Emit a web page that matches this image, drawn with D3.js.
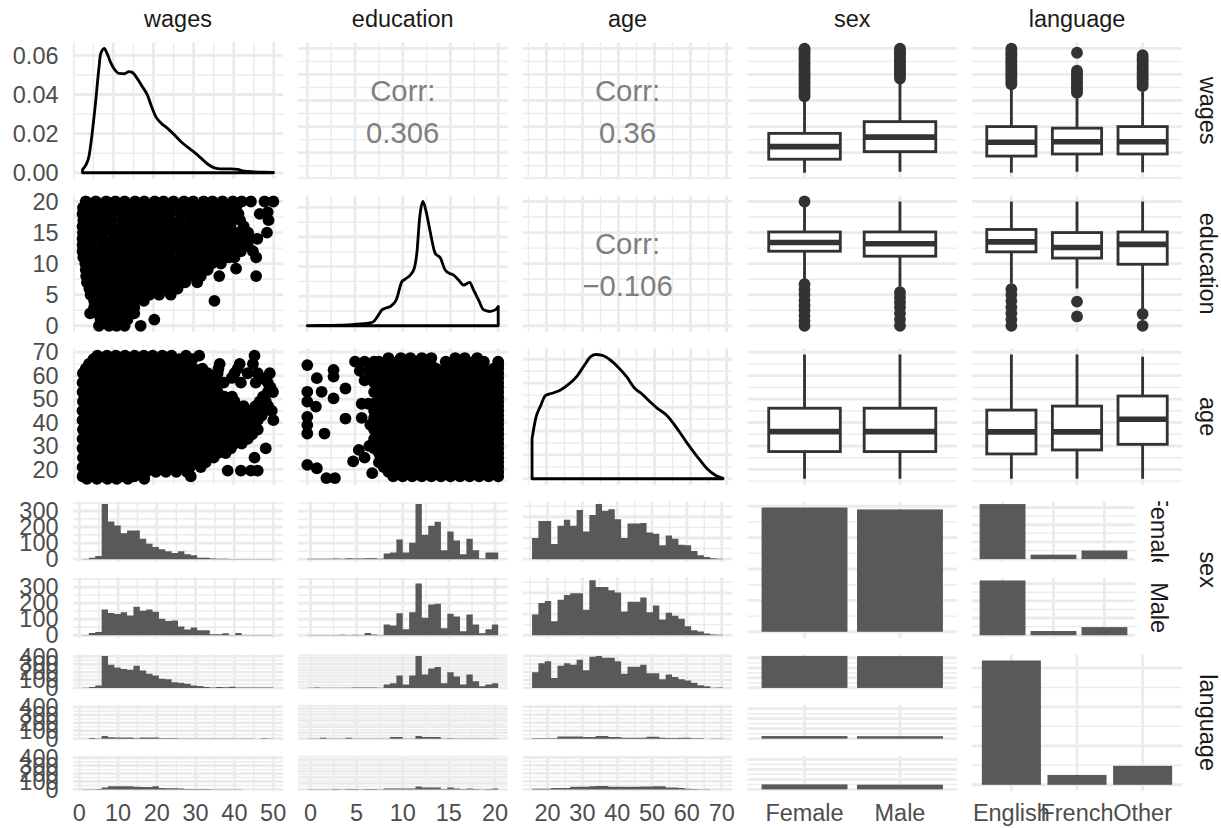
<!DOCTYPE html>
<html>
<head>
<meta charset="utf-8">
<title>Pairs plot: wages, education, age, sex, language</title>
<script src="https://cdn.jsdelivr.net/npm/d3@7/dist/d3.min.js"></script>
<style>
  html, body { margin: 0; padding: 0; background: #ffffff; }
  svg text { font-family: "Liberation Sans", Arial, Helvetica, sans-serif; }
</style>
</head>
<body>
<svg id="chart" width="1221" height="828"></svg>
<script>
// ---------------- data ----------------
const variables = ["wages", "education", "age", "sex", "language"];
const sexLevels = ["Female", "Male"];
const languageLevels = ["English", "French", "Other"];

const wagesRange = [2.3, 49.92];
const educationRange = [0, 20];
const ageRange = [16, 69];

const wagesTicks = [0, 10, 20, 30, 40, 50];
const educationTicks = [0, 5, 10, 15, 20];
const ageTicks = [20, 30, 40, 50, 60, 70];
const densityTicks = [0, 0.02, 0.04, 0.06];
const sexFacetCountTicks = [0, 100, 200, 300];
const languageFacetCountTicks = [0, 100, 200, 300, 400];

const corrLabels = ["0.306", "0.36", "\u22120.106"];

// kernel density estimates on the diagonal: [value, density]
const wagesDensity = [[2.3,0.0017],[3.1,0.0039],[3.9,0.0084],[4.7,0.0202],[5.6,0.037],[6.4,0.0539],[6.8,0.0606],[7.7,0.0635],[8.5,0.0606],[9.3,0.0564],[10.2,0.053],[11.4,0.0508],[12.7,0.0506],[13.9,0.0517],[14.7,0.0513],[16.0,0.048],[17.2,0.0441],[18.5,0.0396],[19.7,0.0328],[20.6,0.0286],[21.8,0.0256],[23.5,0.0227],[25.2,0.0194],[26.8,0.016],[28.5,0.0131],[30.2,0.0104],[31.8,0.0076],[33.5,0.0045],[35.2,0.0025],[36.8,0.002],[39.3,0.002],[41.0,0.0017],[42.7,0.0008],[45.2,0.0005],[47.7,0.0003],[49.92,0.0002]];
const educationDensity = [[0,0.0004],[1.7,0.0006],[3.45,0.001],[5.2,0.0027],[6.25,0.0042],[6.88,0.0063],[7.36,0.0158],[7.82,0.0269],[8.17,0.0296],[8.69,0.0326],[9.32,0.0437],[9.91,0.0746],[10.26,0.079],[10.79,0.0857],[11.2,0.0968],[11.49,0.125],[11.76,0.1808],[12.11,0.21],[12.46,0.1922],[12.88,0.1586],[13.41,0.122],[13.93,0.1149],[14.45,0.0941],[14.91,0.0884],[15.33,0.0857],[15.85,0.0773],[16.38,0.0689],[17.0,0.0733],[17.42,0.0605],[17.94,0.0437],[18.47,0.0269],[19.09,0.0242],[19.69,0.0269],[20,0.0326]];
const ageDensity = [[16,0.0084],[17,0.0126],[18.4,0.0153],[19.7,0.0174],[21.6,0.0179],[23.9,0.0186],[26.2,0.0198],[28.5,0.0215],[30.4,0.0236],[32.2,0.0255],[33.6,0.026],[35.5,0.0258],[37.8,0.0248],[40.1,0.0232],[42.4,0.0212],[44.3,0.0191],[46.6,0.0177],[48.9,0.016],[50.7,0.0148],[53.5,0.0132],[56.3,0.0105],[59.1,0.0074],[61.9,0.0046],[64.6,0.0021],[67.0,0.0007],[69,0.0001]];

// scatter observations, grouped by the y value: [y, [x values]]
const wagesEducationRows = [
  [20, [3.1, 5.6, 8.2, 10.5, 12.8, 15.4, 17.7, 20.3, 22.5, 25.0, 27.6, 29.9, 32.5, 34.7, 37.2, 39.8, 42.0, 44.3, 47.7, 49.9]],
  [19, [2.4, 4.9, 7.1, 9.8, 12.0, 14.7, 16.9, 19.5, 21.8, 24.4, 26.7, 29.3, 31.5, 34.2, 36.4, 38.8, 40.6]],
  [18.3, [48.5]],
  [18, [2.3, 4.6, 7.2, 9.5, 12.1, 14.4, 17.0, 19.2, 21.9, 24.1, 26.8, 29.0, 31.6, 33.9, 36.5, 38.7, 41.2, 46.5]],
  [17, [2.5, 4.8, 7.3, 9.7, 12.2, 14.6, 16.8, 19.5, 21.7, 24.2, 26.6, 29.3, 31.5, 34.1, 36.4, 39.0, 41.6, 48.7]],
  [16, [2.3, 4.9, 7.4, 9.6, 12.3, 14.8, 17.2, 19.6, 22.1, 24.5, 26.9, 29.4, 31.8, 34.3, 36.7, 39.2, 42.5]],
  [15, [2.4, 4.7, 7.1, 9.7, 11.9, 14.5, 16.9, 19.3, 21.8, 24.3, 26.6, 29.1, 31.7, 34.0, 36.5, 38.9, 41.3, 43.6, 48.3]],
  [14, [2.3, 4.8, 7.2, 9.8, 12.1, 14.6, 17.1, 19.4, 21.9, 24.2, 26.8, 29.2, 31.6, 34.2, 36.6, 39.1, 41.4, 43.9, 45.9]],
  [13, [2.3, 4.7, 7.3, 9.6, 12.2, 14.5, 17.0, 19.5, 21.8, 24.4, 26.7, 29.1, 31.7, 34.1, 36.4, 38.9, 41.2, 43.5]],
  [12, [2.3, 4.9, 7.2, 9.7, 12.0, 14.6, 17.1, 19.3, 21.9, 24.3, 26.8, 29.0, 31.6, 34.0, 36.6, 39.0, 41.8, 44.8]],
  [11, [2.5, 4.8, 7.4, 9.8, 12.3, 14.7, 17.0, 19.6, 22.0, 24.2, 26.9, 29.3, 31.5, 34.1, 36.3, 38.8, 40.2, 45.6]],
  [10, [3.0, 5.4, 7.9, 10.2, 12.7, 15.1, 17.6, 20.0, 22.4, 24.9, 27.3, 29.8, 32.2, 34.5, 36.8]],
  [9.2, [40.6]],
  [9, [3.1, 5.5, 8.0, 10.4, 12.9, 15.2, 17.8, 20.1, 22.6, 25.0, 27.5, 29.9, 32.3, 33.5]],
  [8, [3.2, 5.7, 8.1, 10.6, 13.0, 15.5, 17.9, 20.3, 22.8, 25.2, 27.6, 30.1, 31.8, 36.4, 45.6]],
  [7, [3.4, 5.9, 8.3, 10.8, 13.2, 15.6, 18.1, 20.5, 23.0, 25.4, 27.9, 30.9]],
  [6, [4.0, 6.4, 8.9, 11.3, 13.8, 16.2, 18.6, 21.1, 23.5, 26.0]],
  [5, [4.3, 6.8, 9.2, 11.7, 14.1, 16.5, 19.0, 21.4, 24.3]],
  [4, [5.2, 7.6, 10.1, 12.5, 15.0, 17.6, 35.2]],
  [3, [5.2, 7.7, 10.1, 12.6, 15.2]],
  [2, [4.2, 6.0, 8.5, 10.9, 13.4, 15.2]],
  [1, [6.8, 9.2, 11.1, 13.5, 20.2]],
  [0, [6.4, 8.9, 10.8, 12.8, 16.8]]
];
const wagesAgeRows = [
  [68.5, [6.0, 8.4, 10.6, 12.9, 15.3, 17.6, 19.8, 22.2, 24.5, 28.1, 31.4, 45.2]],
  [67, [5.0, 7.3, 9.6, 11.9, 14.2, 16.6, 19.0, 21.3, 23.6, 26.5, 29.7]],
  [65, [3.9, 6.3, 8.8, 11.2, 13.7, 16.1, 18.5, 21.0, 23.4, 25.8, 28.4, 36.5, 41.5, 44.8]],
  [63, [3.1, 5.5, 8.0, 10.4, 12.9, 15.3, 17.7, 20.2, 22.6, 25.1, 27.5, 30.0, 32.2, 36.2, 41.0]],
  [61, [2.4, 4.8, 7.3, 9.7, 12.2, 14.6, 17.0, 19.5, 21.9, 24.4, 26.8, 29.2, 31.7, 33.5, 36.0, 40.2, 43.5, 46.0, 49.0]],
  [59, [3.5, 5.9, 8.4, 10.8, 13.3, 15.7, 18.1, 20.6, 23.0, 25.5, 27.9, 30.4, 32.8, 35.2, 39.5, 46.8]],
  [57, [2.3, 4.7, 7.2, 9.6, 12.1, 14.5, 16.9, 19.4, 21.8, 24.2, 26.7, 29.1, 31.6, 34.3, 37.5, 41.8, 45.5, 48.5]],
  [55, [3.5, 6.0, 8.4, 10.9, 13.3, 15.7, 18.2, 20.6, 23.1, 25.5, 27.9, 30.4, 32.8, 35.1, 49.2]],
  [53, [2.3, 4.8, 7.2, 9.7, 12.1, 14.5, 17.0, 19.4, 21.9, 24.3, 26.7, 29.2, 31.6, 34.1, 36.0, 48.5, 49.8]],
  [51, [3.6, 6.0, 8.5, 10.9, 13.3, 15.8, 18.2, 20.7, 23.1, 25.5, 28.0, 30.4, 32.9, 35.3, 37.7, 39.6, 47.3]],
  [49, [2.4, 4.8, 7.3, 9.7, 12.1, 14.6, 17.0, 19.5, 21.9, 24.3, 26.8, 29.2, 31.7, 34.1, 36.5, 39.0, 40.2, 46.5, 48.0]],
  [47, [3.5, 5.9, 8.4, 10.8, 13.3, 15.7, 18.1, 20.6, 23.0, 25.5, 27.9, 30.3, 32.8, 35.2, 37.7, 40.1, 42.5, 45.4, 48.6]],
  [45, [2.3, 4.7, 7.2, 9.6, 12.0, 14.5, 16.9, 19.4, 21.8, 24.2, 26.7, 29.1, 31.6, 34.0, 36.4, 38.9, 41.3, 44.3, 47.7, 49.5]],
  [43, [3.5, 6.0, 8.4, 10.8, 13.3, 15.7, 18.2, 20.6, 23.0, 25.5, 27.9, 30.4, 32.8, 35.2, 37.7, 40.1, 42.6, 45.0, 47.0]],
  [41, [2.3, 4.8, 7.2, 9.6, 12.1, 14.5, 17.0, 19.4, 21.8, 24.3, 26.7, 29.2, 31.6, 34.0, 36.5, 38.9, 41.4, 43.8, 46.0, 49.9]],
  [39, [3.6, 6.0, 8.5, 10.9, 13.4, 15.8, 18.2, 20.7, 23.1, 25.6, 28.0, 30.4, 32.9, 35.3, 37.8, 40.2, 42.6, 45.1]],
  [37, [2.4, 4.8, 7.3, 9.7, 12.2, 14.6, 17.0, 19.5, 21.9, 24.4, 26.8, 29.2, 31.7, 34.1, 36.6, 39.0, 41.4, 43.9, 46.0]],
  [35, [3.5, 5.9, 8.3, 10.8, 13.2, 15.7, 18.1, 20.5, 23.0, 25.4, 27.9, 30.3, 32.7, 35.2, 37.6, 40.1, 42.5, 44.6]],
  [33, [2.3, 4.7, 7.1, 9.6, 12.0, 14.4, 16.9, 19.3, 21.8, 24.2, 26.6, 29.1, 31.5, 34.0, 36.4, 38.8, 41.3, 43.5]],
  [31, [3.5, 6.0, 8.4, 10.9, 13.3, 15.7, 18.2, 20.6, 23.1, 25.5, 28.0, 30.4, 32.8, 35.3, 37.7, 40.2, 42.0]],
  [29, [2.3, 4.8, 7.2, 9.7, 12.1, 14.6, 17.0, 19.4, 21.9, 24.3, 26.8, 29.2, 31.6, 34.1, 36.5, 39.3, 48.0]],
  [27, [3.6, 6.0, 8.5, 10.9, 13.4, 15.8, 18.3, 20.7, 23.1, 25.6, 28.0, 30.5, 32.9, 36.0, 38.0]],
  [25, [2.4, 4.8, 7.3, 9.7, 12.2, 14.6, 17.1, 19.5, 21.9, 24.4, 26.8, 29.3, 31.7, 35.0, 45.2]],
  [23, [3.5, 5.9, 8.4, 10.8, 13.2, 15.7, 18.1, 20.6, 23.0, 25.4, 27.9, 30.3, 33.0]],
  [21, [2.3, 4.7, 7.2, 9.6, 12.0, 14.5, 16.9, 19.4, 21.8, 24.2, 26.7, 29.1, 31.8]],
  [19.5, [38.5, 41.8, 44.3, 46.0]],
  [19, [3.5, 6.0, 8.4, 10.9, 13.3, 15.8, 18.2, 20.6, 23.1, 25.7, 28.3]],
  [17, [2.3, 4.8, 7.2, 9.7, 12.1, 15.2, 29.3]],
  [16, [3.4, 5.9, 8.5, 10.8, 13.6, 17.7]]
];
const educationAgeRows = [
  [67.5, [8.5, 9.8, 10.8, 12.0, 13.0, 15.5, 16.5, 17.8]],
  [66, [5.0, 6.0, 7.0, 7.5, 8.5, 9.5, 10.5, 11.5, 12.5, 14.5, 15.5, 16.5, 17.5, 18.5, 20]],
  [64.5, [8, 9, 10, 11, 12, 13, 15, 16, 17, 18, 20]],
  [63, [7.5, 8.5, 9.5, 10.5, 11.5, 12.5, 13.5, 14.5, 15.5, 16.5, 17.5, 18.5, 19.5, 20]],
  [62, [5.5, 6.5, 7.0]],
  [61, [7, 8, 9, 10, 11, 12, 13, 14, 15, 16, 17, 18, 19, 20]],
  [59, [7.5, 8.5, 9.5, 10.5, 11.5, 12.5, 13.5, 14.5, 15.5, 16.5, 17.5, 18.5, 19.5, 20]],
  [58, [6.0, 7.0]],
  [57, [7, 8, 9, 10, 11, 12, 13, 14, 15, 16, 17, 18, 19, 20]],
  [55, [7.5, 8.5, 9.5, 10.5, 11.5, 12.5, 13.5, 14.5, 15.5, 16.5, 17.5, 18.5, 19.5, 20]],
  [53, [7, 8, 9, 10, 11, 12, 13, 14, 15, 16, 17, 18, 19, 20]],
  [51, [7.5, 8.5, 9.5, 10.5, 11.5, 12.5, 13.5, 14.5, 15.5, 16.5, 17.5, 18.5, 19.5, 20]],
  [49, [8, 9, 10, 11, 12, 13, 14, 15, 16, 17, 18, 19, 20]],
  [48, [5.7, 6.4, 7.0]],
  [47, [7.5, 8.5, 9.5, 10.5, 11.5, 12.5, 13.5, 14.5, 15.5, 16.5, 17.5, 18.5, 19.5, 20]],
  [45, [7, 8, 9, 10, 11, 12, 13, 14, 15, 16, 17, 18, 19, 20]],
  [43, [7.5, 8.5, 9.5, 10.5, 11.5, 12.5, 13.5, 14.5, 15.5, 16.5, 17.5, 18.5, 19.5, 20]],
  [42, [5.7, 7.0]],
  [41, [8, 9, 10, 11, 12, 13, 14, 15, 16, 17, 18, 19, 20]],
  [39, [6.6, 7.5, 8.5, 9.5, 10.5, 11.5, 12.5, 13.5, 14.5, 15.5, 16.5, 17.5, 18.5, 19.5, 20]],
  [37, [7, 8, 9, 10, 11, 12, 13, 14, 15, 16, 17, 18, 19, 20]],
  [35, [7.5, 8.5, 9.5, 10.5, 11.5, 12.5, 13.5, 14.5, 15.5, 16.5, 17.5, 18.5, 19.5, 20]],
  [33, [7, 8, 9, 10, 11, 12, 13, 14, 15, 16, 17, 18, 19, 20]],
  [31, [7.5, 8.5, 9.5, 10.5, 11.5, 12.5, 13.5, 14.5, 15.5, 16.5, 17.5, 18.5, 19.5, 20]],
  [29, [7, 8, 9, 10, 11, 12, 13, 14, 15, 16, 17, 18, 19, 20]],
  [27, [7.5, 8.5, 9.5, 10.5, 11.5, 12.5, 13.5, 14.5, 15.5, 16.5, 17.5, 18.5, 19.5, 20]],
  [25, [8, 9, 10, 11, 12, 13, 14, 15, 16, 17, 18, 19, 20]],
  [23, [7.5, 8.5, 9.5, 10.5, 11.5, 12.5, 13.5, 14.5, 15.5, 16.5, 17.5, 18.5, 19.5, 20]],
  [21, [8, 9, 10, 11, 12, 13, 14, 15, 16, 17, 18, 19, 20]],
  [19, [8.5, 9.5, 10.5, 11.5, 12.5, 13.5, 14.5, 15.5, 16.5, 17.5, 18.5, 19.5, 20]],
  [17, [9, 10, 11, 12, 13, 14, 15, 16, 17, 18, 19, 20]]
];
const educationAgeSparse = [[0,64.5],[1.0,58.9],[2.75,62.4],[2.75,59.6],[0,53.1],[1.5,53.1],[0,48.9],[0.9,46.8],[2.75,50.3],[4.0,54.5],[4.0,41.7],[0,42.4],[0,38.9],[0,35.3],[1.8,35.3],[0,21.9],[1.0,20.5],[2.0,16.3],[2.9,16.3],[4.8,23.4],[6.8,18.4],[5.4,28.3],[6.0,25.0],[6.5,30.0]];

// histogram bins: [first break, bin width]; counts per facet (30 bins)
const wagesBin = [0.821, 1.642];
const educationBin = [-0.345, 0.6897];
const ageBin = [15.534, 1.8276];

const wagesFemale = [1, 8, 20, 343, 235, 209, 162, 178, 178, 127, 96, 76, 61, 49, 39, 49, 31, 25, 8, 8, 4, 2, 2, 1, 1, 1, 1, 1, 1, 1];
const wagesMale = [1, 14, 20, 160, 139, 133, 143, 123, 178, 153, 160, 147, 102, 88, 92, 55, 35, 49, 31, 31, 6, 6, 12, 1, 14, 1, 1, 1, 2, 1];
const wagesEnglish = [2, 12, 32, 405, 292, 259, 239, 231, 279, 219, 178, 158, 117, 109, 73, 65, 53, 32, 24, 12, 4, 12, 8, 16, 4, 4, 4, 4, 4, 4];
const wagesFrench = [0, 8, 2, 33, 18, 16, 16, 16, 4, 16, 16, 16, 4, 4, 4, 2, 2, 2, 2, 2, 2, 2, 2, 2, 2, 2, 2, 0, 4, 2];
const wagesOther = [1, 2, 4, 25, 41, 41, 41, 41, 35, 30, 30, 41, 18, 14, 14, 12, 6, 6, 4, 4, 2, 2, 1, 1, 1, 0, 0, 0, 0, 0];

const educationFemale = [3, 2, 2, 3, 4, 3, 5, 4, 4, 6, 5, 3, 35, 41, 123, 41, 102, 344, 153, 209, 233, 55, 172, 117, 31, 127, 55, 4, 41, 41];
const educationMale = [1, 1, 1, 2, 2, 3, 2, 3, 2, 14, 4, 2, 67, 61, 137, 37, 143, 323, 110, 192, 196, 43, 135, 117, 25, 129, 67, 12, 37, 67];
const educationEnglish = [5, 8, 4, 4, 5, 4, 5, 9, 9, 6, 9, 4, 59, 80, 209, 59, 209, 535, 225, 326, 348, 80, 262, 193, 59, 225, 112, 27, 59, 80];
const educationFrench = [2, 3, 16, 3, 2, 3, 16, 3, 2, 3, 4, 3, 3, 27, 27, 4, 2, 43, 27, 27, 27, 4, 6, 3, 2, 4, 3, 2, 3, 3];
const educationOther = [3, 4, 3, 4, 5, 4, 6, 5, 4, 6, 5, 4, 16, 16, 16, 16, 16, 48, 32, 32, 32, 8, 32, 16, 6, 16, 8, 3, 6, 16];

const ageFemale = [50, 90, 90, 36, 79, 93, 79, 116, 65, 104, 130, 114, 118, 94, 50, 84, 84, 85, 63, 60, 33, 56, 48, 34, 33, 19, 9, 5, 2, 1];
const ageMale = [49, 76, 81, 33, 84, 95, 99, 99, 60, 130, 114, 114, 106, 101, 56, 79, 79, 89, 54, 70, 37, 53, 46, 39, 21, 12, 9, 4, 2, 1];
const ageEnglish = [98, 154, 166, 62, 138, 154, 144, 176, 110, 194, 200, 188, 188, 166, 88, 132, 132, 144, 92, 92, 54, 84, 68, 54, 46, 32, 16, 10, 1, 2];
const ageFrench = [3, 3, 2, 2, 14, 14, 14, 14, 10, 10, 16, 16, 10, 10, 6, 6, 6, 6, 12, 12, 6, 4, 4, 6, 6, 3, 2, 0, 1, 1];
const ageOther = [4, 4, 4, 8, 8, 8, 16, 16, 16, 20, 22, 22, 16, 16, 16, 16, 16, 18, 18, 20, 20, 12, 12, 8, 4, 2, 1, 1, 0, 0];

// counts of language by sex (English, French, Other)
const femaleLanguage = [1600, 130, 250];
const maleLanguage = [1591, 123, 236];

// boxplot summaries: [lower whisker, Q1, median, Q3, upper whisker]
const wagesSexBox = [[2.3, 7.5, 12.3, 17.4, 30.2], [2.7, 10.4, 16.0, 21.9, 37.0]];
const wagesSexOutliers = [
  [31.6, 32.4, 33.3, 34.1, 35.0, 35.9, 36.7, 37.5, 38.4, 39.3, 40.1, 40.9, 41.8, 42.7, 43.5, 44.3, 45.2, 46.0, 46.9, 47.8, 48.6, 49.4, 49.9],
  [38.4, 39.2, 40.1, 41.0, 41.8, 42.6, 43.5, 44.4, 45.2, 46.1, 46.9, 47.7, 48.6, 49.3, 49.9]
];
const wagesLanguageBox = [[2.3, 8.7, 14.0, 20.0, 35.3], [2.7, 9.5, 14.2, 19.4, 30.8], [2.5, 9.5, 14.2, 20.0, 33.4]];
const wagesLanguageOutliers = [
  [36.2, 37.1, 37.9, 38.8, 39.6, 40.4, 41.3, 42.2, 43.0, 43.9, 44.7, 45.5, 46.4, 47.3, 48.1, 49.0, 49.9],
  [32.9, 33.8, 34.7, 35.5, 36.3, 37.2, 38.1, 38.9, 39.8, 40.6, 41.4, 48.3],
  [35.5, 36.3, 37.2, 38.1, 38.9, 39.7, 40.6, 41.5, 42.3, 43.1, 44.0, 44.9, 45.7, 46.5, 47.4]
];
const educationSexBox = [[7.5, 12.0, 13.4, 15.1, 19.5], [6.3, 11.2, 13.2, 15.1, 20]];
const educationSexOutliers = [[20, 6.7, 5.8, 5.0, 4.1, 3.3, 2.5, 1.6, 0.8, 0], [5.4, 4.6, 3.8, 3.0, 2.0, 1.0, 0]];
const educationLanguageBox = [[6.8, 11.9, 13.5, 15.5, 20], [6.0, 10.9, 12.6, 15.0, 20], [2.8, 9.9, 13.1, 15.1, 20]];
const educationLanguageOutliers = [[5.9, 5.0, 4.0, 3.0, 2.0, 1.0, 0], [3.9, 1.5], [1.9, 0]];
const ageSexBox = [[16, 27.6, 36.1, 46.1, 69], [16, 27.6, 36.1, 46.1, 69]];
const ageLanguageBox = [[16, 26.6, 36.0, 45.3, 69], [16, 28.3, 36.0, 47.0, 69], [16, 30.7, 41.4, 51.3, 68]];

// ---------------- layout & style ----------------
const PANEL_W = 210, PANEL_H = 136.7, COL_STEP = 224.75, ROW_STEP = 153;
const LEFT = 73, TOP = 42.3, FACET_GAP = 15.5;
const colX = i => LEFT + i * COL_STEP;
const rowY = j => TOP + j * ROW_STEP;

const GRID_COL = "#ebebeb", MAJOR_W = 2.84, MINOR_W = 1.42;
const LINE_W = 2.84, MEDIAN_W = 5.7, POINT_R = 5.9;
const BAR_FILL = "#595959", BOX_COL = "#333333";
const AXIS_COL = "#4d4d4d", STRIP_COL = "#1a1a1a", CORR_COL = "#7f7f7f";
const TEXT_SIZE = 23.47, CORR_SIZE = 29.3;

const svg = d3.select("#chart");
svg.append("rect").attr("width", 1221).attr("height", 828).attr("fill", "#ffffff");
const defs = svg.append("defs");

const expand = (r, m = 0.05) => { const d = r[1] - r[0]; return [r[0] - m * d, r[1] + m * d]; };

function breaksFor(domain, fixed) {
  let maj;
  if (fixed) maj = fixed.slice();
  else {
    maj = d3.ticks(domain[0], domain[1], 5);
    if (maj.length > 6) maj = d3.ticks(domain[0], domain[1], 3);
  }
  let min = [];
  if (maj.length > 1) {
    const step = maj[1] - maj[0];
    min = [maj[0] - step / 2, ...maj.map(v => v + step / 2)];
  }
  const inside = v => v >= domain[0] && v <= domain[1];
  return { maj: maj.filter(inside), min: min.filter(inside) };
}

let clipCount = 0;
function clipped(box) {
  const id = "clip-" + (clipCount++);
  defs.append("clipPath").attr("id", id).append("rect")
    .attr("x", box.x).attr("y", box.y).attr("width", box.w).attr("height", box.h);
  return svg.append("g").attr("clip-path", `url(#${id})`);
}

function drawGrid(g, box, xs, xb, ys, yb) {
  const lines = [
    ...yb.min.map(v => ({ o: "h", p: ys(v), w: MINOR_W })),
    ...xb.min.map(v => ({ o: "v", p: xs(v), w: MINOR_W })),
    ...yb.maj.map(v => ({ o: "h", p: ys(v), w: MAJOR_W })),
    ...xb.maj.map(v => ({ o: "v", p: xs(v), w: MAJOR_W }))
  ];
  g.append("g").selectAll("line").data(lines).join("line")
    .attr("x1", d => d.o === "h" ? box.x : d.p)
    .attr("x2", d => d.o === "h" ? box.x + box.w : d.p)
    .attr("y1", d => d.o === "h" ? d.p : box.y)
    .attr("y2", d => d.o === "h" ? d.p : box.y + box.h)
    .attr("stroke", GRID_COL).attr("stroke-width", d => d.w);
}

const panelBox = (col, row) => ({ x: colX(col), y: rowY(row), w: PANEL_W, h: PANEL_H });

function facetBoxes(x, w, top, n) {
  const h = (PANEL_H - FACET_GAP * (n - 1)) / n;
  return d3.range(n).map(i => ({ x, y: top + i * (h + FACET_GAP), w, h }));
}

// ---------------- panel types ----------------
function densityPanel(col, row, range, xTicks, curve, yTicks) {
  const box = panelBox(col, row);
  const xs = d3.scaleLinear().domain(expand(range)).range([box.x, box.x + box.w]);
  const ys = d3.scaleLinear().domain(expand([0, d3.max(curve, d => d[1])])).range([box.y + box.h, box.y]);
  const g = clipped(box);
  drawGrid(g, box, xs, breaksFor(xs.domain(), xTicks), ys, breaksFor(ys.domain(), yTicks));
  const line = d3.line().x(d => xs(d[0])).y(d => ys(d[1])).curve(d3.curveMonotoneX);
  const first = curve[0], last = curve[curve.length - 1];
  const d = `M${xs(first[0])},${ys(0)}L` + line(curve).slice(1) + `L${xs(last[0])},${ys(0)}Z`;
  g.append("path").attr("d", d).attr("fill", "none").attr("stroke", "#000000")
    .attr("stroke-width", LINE_W).attr("stroke-linejoin", "round");
  return { xs, ys };
}

function scatterPanel(col, row, xRange, xTicks, yRange, yTicks, points) {
  const box = panelBox(col, row);
  const xs = d3.scaleLinear().domain(expand(xRange)).range([box.x, box.x + box.w]);
  const ys = d3.scaleLinear().domain(expand(yRange)).range([box.y + box.h, box.y]);
  const g = clipped(box);
  drawGrid(g, box, xs, breaksFor(xs.domain(), xTicks), ys, breaksFor(ys.domain(), yTicks));
  g.append("g").selectAll("circle").data(points).join("circle")
    .attr("cx", d => xs(d[0])).attr("cy", d => ys(d[1])).attr("r", POINT_R).attr("fill", "#000000");
  return { xs, ys };
}

function corrPanel(col, row, xRange, xTicks, yRange, yTicks, label) {
  const box = panelBox(col, row);
  const xs = d3.scaleLinear().domain(expand(xRange)).range([box.x, box.x + box.w]);
  const ys = d3.scaleLinear().domain(expand(yRange)).range([box.y + box.h, box.y]);
  const g = clipped(box);
  drawGrid(g, box, xs, breaksFor(xs.domain(), xTicks), ys, breaksFor(ys.domain(), yTicks));
  const cx = box.x + box.w / 2, cy = box.y + box.h / 2;
  svg.append("g").selectAll("text").data([["Corr:", -9.6], [label, 32.8]]).join("text")
    .attr("x", cx).attr("y", d => cy + d[1]).attr("text-anchor", "middle")
    .attr("font-size", CORR_SIZE).attr("fill", CORR_COL).text(d => d[0]);
}

function boxPanel(col, row, levels, stats, outliers, yRange, yTicks) {
  const box = panelBox(col, row);
  const xs = d3.scalePoint().domain(levels).range([box.x, box.x + box.w]).padding(0.6);
  const ys = d3.scaleLinear().domain(expand(yRange)).range([box.y + box.h, box.y]);
  const g = clipped(box);
  drawGrid(g, box, xs, { maj: levels, min: [] }, ys, breaksFor(ys.domain(), yTicks));
  const half = xs.step() * 0.75 / 2;
  const items = levels.map((lv, i) => ({ lv, s: stats[i], out: outliers ? outliers[i] : [] }));
  g.append("g").selectAll("g").data(items).join("g").each(function (d) {
    const el = d3.select(this), cx = xs(d.lv);
    const [lo, q1, med, q3, hi] = d.s;
    el.selectAll("circle").data(d.out).join("circle")
      .attr("cx", cx).attr("cy", v => ys(v)).attr("r", POINT_R).attr("fill", BOX_COL);
    el.selectAll("line.whisker").data([[hi, q3], [q1, lo]]).join("line").attr("class", "whisker")
      .attr("x1", cx).attr("x2", cx).attr("y1", v => ys(v[0])).attr("y2", v => ys(v[1]))
      .attr("stroke", BOX_COL).attr("stroke-width", LINE_W);
    el.append("rect").attr("x", cx - half).attr("y", ys(q3)).attr("width", 2 * half)
      .attr("height", ys(q1) - ys(q3)).attr("fill", "#ffffff")
      .attr("stroke", BOX_COL).attr("stroke-width", LINE_W);
    el.append("line").attr("x1", cx - half).attr("x2", cx + half).attr("y1", ys(med)).attr("y2", ys(med))
      .attr("stroke", BOX_COL).attr("stroke-width", MEDIAN_W);
  });
}

function histPanel(col, row, bin, facetCounts, xTicks) {
  const [start, width] = bin;
  const n = facetCounts[0].length;
  const x0 = colX(col);
  const xs = d3.scaleLinear().domain(expand([start, start + n * width])).range([x0, x0 + PANEL_W]);
  const xb = breaksFor(xs.domain(), xTicks);
  const maxC = d3.max(facetCounts, c => d3.max(c));
  const facets = facetBoxes(x0, PANEL_W, rowY(row), facetCounts.length).map((box, k) => {
    const ys = d3.scaleLinear().domain(expand([0, maxC])).range([box.y + box.h, box.y]);
    const g = clipped(box);
    drawGrid(g, box, xs, xb, ys, breaksFor(ys.domain()));
    let p = `M${xs(start)},${ys(0)}`;
    facetCounts[k].forEach((c, i) => { p += `V${ys(c)}H${xs(start + (i + 1) * width)}`; });
    p += `V${ys(0)}Z`;
    g.append("path").attr("d", p).attr("fill", BAR_FILL);
    return { box, ys };
  });
  return { xs, facets };
}

function barPanel(col, row, width, levels, facetCounts) {
  const x0 = colX(col);
  const xs = d3.scalePoint().domain(levels).range([x0, x0 + width]).padding(0.6);
  const maxC = d3.max(facetCounts, c => d3.max(c));
  const bw = xs.step() * 0.9;
  const facets = facetBoxes(x0, width, rowY(row), facetCounts.length).map((box, k) => {
    const ys = d3.scaleLinear().domain(expand([0, maxC])).range([box.y + box.h, box.y]);
    const g = clipped(box);
    drawGrid(g, box, xs, { maj: levels, min: [] }, ys, breaksFor(ys.domain()));
    g.append("g").selectAll("rect").data(levels.map((lv, i) => [lv, facetCounts[k][i]])).join("rect")
      .attr("x", d => xs(d[0]) - bw / 2).attr("width", bw)
      .attr("y", d => ys(d[1])).attr("height", d => ys(0) - ys(d[1]))
      .attr("fill", BAR_FILL);
    return { box, ys };
  });
  return { xs, facets };
}

// ---------------- panels ----------------
const rowsToPoints = (rows) => rows.flatMap(([y, xsVals]) => xsVals.map(x => [x, y]));
const wagesEducationPoints = rowsToPoints(wagesEducationRows);
const wagesAgePoints = rowsToPoints(wagesAgeRows);
const educationAgePoints = rowsToPoints(educationAgeRows).concat(educationAgeSparse);

const sexTotals = [d3.sum(femaleLanguage), d3.sum(maleLanguage)];
const languageTotals = languageLevels.map((_, i) => femaleLanguage[i] + maleLanguage[i]);

// row: wages
const wagesDiag = densityPanel(0, 0, wagesRange, wagesTicks, wagesDensity, densityTicks);
corrPanel(1, 0, educationRange, educationTicks, wagesRange, wagesTicks, corrLabels[0]);
corrPanel(2, 0, ageRange, ageTicks, wagesRange, wagesTicks, corrLabels[1]);
boxPanel(3, 0, sexLevels, wagesSexBox, wagesSexOutliers, wagesRange, wagesTicks);
boxPanel(4, 0, languageLevels, wagesLanguageBox, wagesLanguageOutliers, wagesRange, wagesTicks);

// row: education
const wagesEdu = scatterPanel(0, 1, wagesRange, wagesTicks, educationRange, educationTicks, wagesEducationPoints);
densityPanel(1, 1, educationRange, educationTicks, educationDensity, null);
corrPanel(2, 1, ageRange, ageTicks, educationRange, educationTicks, corrLabels[2]);
boxPanel(3, 1, sexLevels, educationSexBox, educationSexOutliers, educationRange, educationTicks);
boxPanel(4, 1, languageLevels, educationLanguageBox, educationLanguageOutliers, educationRange, educationTicks);

// row: age
const wagesAge = scatterPanel(0, 2, wagesRange, wagesTicks, ageRange, ageTicks, wagesAgePoints);
scatterPanel(1, 2, educationRange, educationTicks, ageRange, ageTicks, educationAgePoints);
densityPanel(2, 2, ageRange, ageTicks, ageDensity, null);
boxPanel(3, 2, sexLevels, ageSexBox, null, ageRange, ageTicks);
boxPanel(4, 2, languageLevels, ageLanguageBox, null, ageRange, ageTicks);

// row: sex
const wagesBySex = histPanel(0, 3, wagesBin, [wagesFemale, wagesMale], wagesTicks);
histPanel(1, 3, educationBin, [educationFemale, educationMale], educationTicks);
histPanel(2, 3, ageBin, [ageFemale, ageMale], ageTicks);
barPanel(3, 3, PANEL_W, sexLevels, [sexTotals]);
const languageBySex = barPanel(4, 3, 163, languageLevels, [femaleLanguage, maleLanguage]);

// row: language
const wagesByLanguage = histPanel(0, 4, wagesBin, [wagesEnglish, wagesFrench, wagesOther], wagesTicks);
const eduByLanguage = histPanel(1, 4, educationBin, [educationEnglish, educationFrench, educationOther], educationTicks);
const ageByLanguage = histPanel(2, 4, ageBin, [ageEnglish, ageFrench, ageOther], ageTicks);
const sexByLanguage = barPanel(3, 4, PANEL_W, sexLevels, languageLevels.map((_, i) => [femaleLanguage[i], maleLanguage[i]]));
const languageDiag = barPanel(4, 4, PANEL_W, languageLevels, [languageTotals]);

// ---------------- axes & strips ----------------
function leftLabels(ys, values, fmt) {
  svg.append("g").selectAll("text").data(values).join("text")
    .attr("x", 58.5).attr("y", d => ys(d)).attr("dy", "0.35em").attr("text-anchor", "end")
    .attr("font-size", TEXT_SIZE).attr("fill", AXIS_COL).text(fmt);
}
function bottomLabels(xs, values) {
  svg.append("g").selectAll("text").data(values).join("text")
    .attr("x", d => xs(d)).attr("y", 821).attr("text-anchor", "middle")
    .attr("font-size", TEXT_SIZE).attr("fill", AXIS_COL).text(d => d);
}

leftLabels(wagesDiag.ys, densityTicks, d3.format(".2f"));
leftLabels(wagesEdu.ys, educationTicks, d => d);
leftLabels(wagesAge.ys, ageTicks, d => d);
wagesBySex.facets.forEach(f => leftLabels(f.ys, sexFacetCountTicks, d => d));
wagesByLanguage.facets.forEach(f => leftLabels(f.ys, languageFacetCountTicks, d => d));

bottomLabels(wagesByLanguage.xs, wagesTicks);
bottomLabels(eduByLanguage.xs, educationTicks);
bottomLabels(ageByLanguage.xs, ageTicks);
bottomLabels(sexByLanguage.xs, sexLevels);
bottomLabels(languageDiag.xs, languageLevels);

// facet strips of the language-by-sex panel
languageBySex.facets.forEach((f, i) => {
  const g = clipped({ x: 1136, y: f.box.y, w: 48, h: f.box.h });
  g.append("text").attr("transform", `translate(1151,${f.box.y + f.box.h / 2}) rotate(90)`)
    .attr("text-anchor", "middle").attr("font-size", TEXT_SIZE).attr("fill", STRIP_COL)
    .text(sexLevels[i]);
});

// column titles and row titles
svg.append("g").selectAll("text").data(variables).join("text")
  .attr("x", (d, i) => colX(i) + PANEL_W / 2).attr("y", 26.7).attr("text-anchor", "middle")
  .attr("font-size", TEXT_SIZE).attr("fill", STRIP_COL).text(d => d);
svg.append("g").selectAll("text").data(variables).join("text")
  .attr("transform", (d, i) => `translate(1200,${rowY(i) + PANEL_H / 2}) rotate(90)`)
  .attr("text-anchor", "middle").attr("font-size", TEXT_SIZE).attr("fill", STRIP_COL).text(d => d);
</script>
</body>
</html>
